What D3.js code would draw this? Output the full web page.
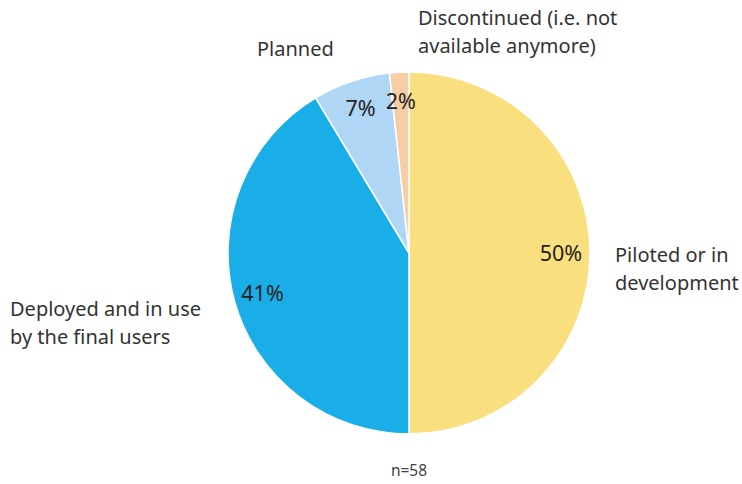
<!DOCTYPE html>
<html><head><meta charset="utf-8">
<script src="https://cdn.jsdelivr.net/npm/d3@7"></script>
<style>body{margin:0;background:#fff;} svg{display:block;font-family:"Noto Sans",sans-serif;}</style>
</head><body>
<svg id="c" width="742" height="484"></svg>
<script>
const categories = ["Piloted or in development", "Deployed and in use by the final users", "Planned", "Discontinued (i.e. not available anymore)"];
const labelLines = [["Piloted or in", "development"], ["Deployed and in use", "by the final users"], ["Planned"], ["Discontinued (i.e. not", "available anymore)"]];
const counts = [29, 24, 4, 1];
const colors = ["#F9DF7E", "#1AAEE9", "#AFD6F4", "#F7CDA6"];
const nLabel = "n=58";

const svg = d3.select("#c");
const cx = 409, cy = 253, R = 181;
const total = d3.sum(counts);
const pie = d3.pie().sort(null).value(d => d)(counts);
const arc = d3.arc().innerRadius(0).outerRadius(R);
const labelArc = d3.arc().innerRadius(152).outerRadius(152);
const g = svg.append("g").attr("transform", `translate(${cx},${cy})`);

g.selectAll("path").data(pie).join("path")
  .attr("d", arc).attr("fill", (d, i) => colors[i])
  .attr("stroke", "#fff").attr("stroke-width", 1.5);

g.selectAll("text.pct").data(pie).join("text").attr("class", "pct")
  .attr("transform", d => `translate(${labelArc.centroid(d)})`)
  .attr("text-anchor", "middle").attr("dy", "0.35em")
  .attr("font-size", 21.5).attr("fill", "#222")
  .text(d => Math.round(d.value / total * 100) + "%");

// outside category labels
const outPos = [
  {x: cx + R + 25, y: cy + 9, anchor: "start"},
  {x: 10, y: cy + 63, anchor: "start"},
  {x: 257, y: 56, anchor: "start"},
  {x: 418, y: 25, anchor: "start"}
];
labelLines.forEach((lines, i) => {
  const t = svg.append("text").attr("x", outPos[i].x).attr("y", outPos[i].y)
    .attr("text-anchor", outPos[i].anchor).attr("font-size", 20).attr("fill", "#333");
  lines.forEach((l, j) => t.append("tspan").attr("x", outPos[i].x).attr("dy", j ? 28 : 0).text(l));
});

svg.append("text").attr("x", cx).attr("y", 476).attr("text-anchor", "middle")
  .attr("font-size", 15.5).attr("fill", "#444").text(nLabel);
</script>
</body></html>
